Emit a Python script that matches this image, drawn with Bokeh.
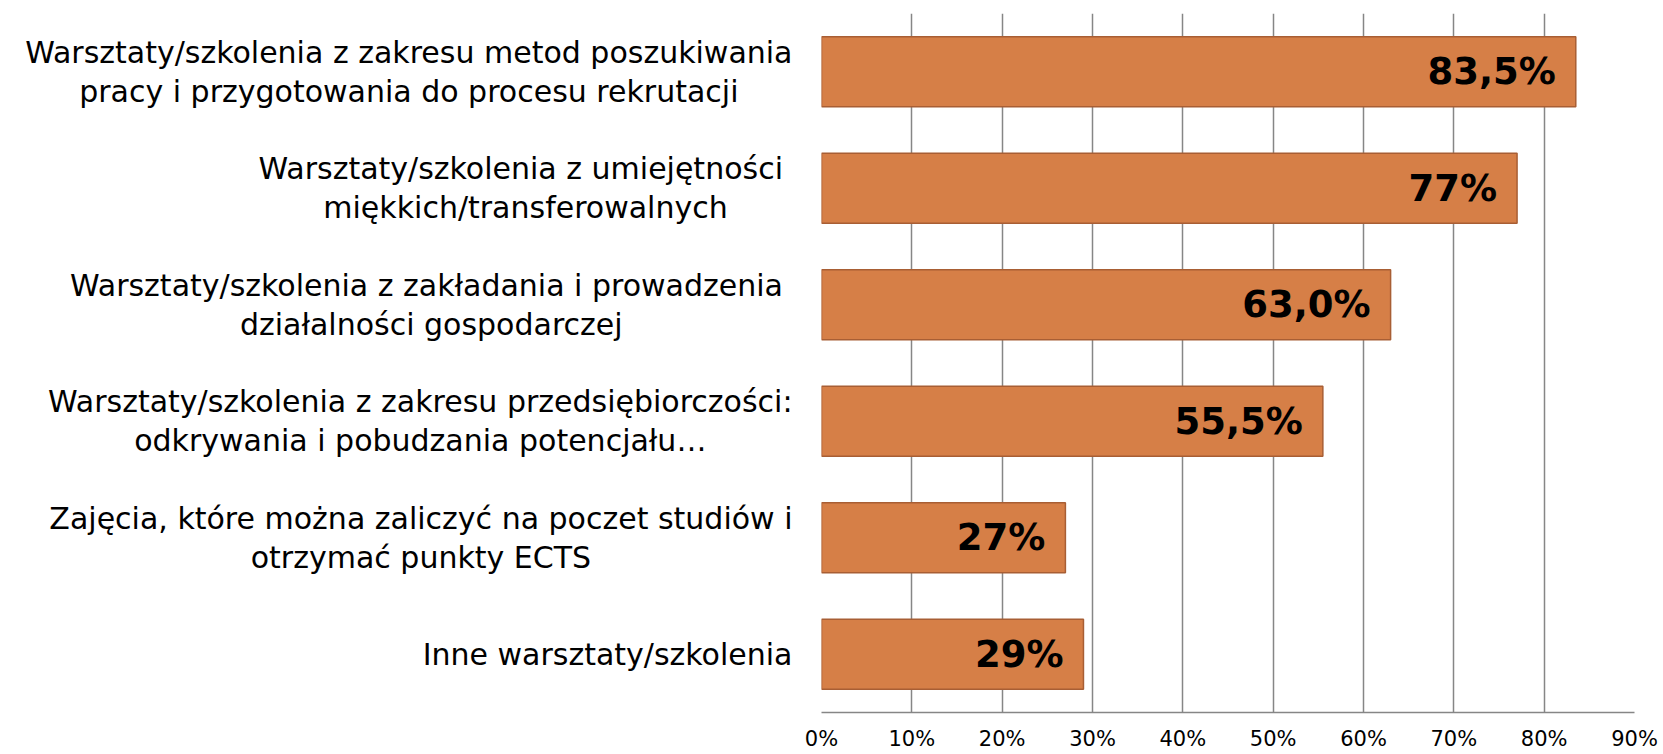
from bokeh.plotting import figure
from bokeh.layouts import row
from bokeh.models import FactorRange, Range1d, FixedTicker, ColumnDataSource
from bokeh.core.properties import value
from bokeh.embed import file_html
from bokeh.resources import INLINE

categories = [
    "Warsztaty/szkolenia z zakresu metod poszukiwania\npracy i przygotowania do procesu rekrutacji",
    "Warsztaty/szkolenia z umiejętności \nmiękkich/transferowalnych",
    "Warsztaty/szkolenia z zakładania i prowadzenia \ndziałalności gospodarczej",
    "Warsztaty/szkolenia z zakresu przedsiębiorczości:\nodkrywania i pobudzania potencjału…",
    "Zajęcia, które można zaliczyć na poczet studiów i\notrzymać punkty ECTS",
    "Inne warsztaty/szkolenia",
]
values = [83.5, 77.0, 63.0, 55.5, 27.0, 29.0]
value_labels = ["83,5%", "77%", "63,0%", "55,5%", "27%", "29%"]
tick_values = [0, 10, 20, 30, 40, 50, 60, 70, 80, 90]
tick_labels = ["0%", "10%", "20%", "30%", "40%", "50%", "60%", "70%", "80%", "90%"]

src = ColumnDataSource(dict(cat=categories, val=values, lab=value_labels,
                            edge=[1.0] * len(categories)))
yr = FactorRange(factors=categories[::-1])

# label panel (category names, block right-aligned, lines centred)
lp = figure(
    y_range=yr, x_range=Range1d(0, 1),
    frame_width=792, frame_height=699,
    min_border_left=0, min_border_right=0, min_border_top=13, min_border_bottom=42,
    x_axis_location=None, y_axis_location=None,
    output_backend="svg", toolbar_location=None,
)
lp.outline_line_color = None
lp.xgrid.visible = False
lp.ygrid.visible = False
lp.text(x="edge", y="cat", text="cat", source=src,
        anchor="center_right", text_align="center", text_baseline="middle",
        text_font=value("DejaVu Sans"), text_font_size="30px",
        text_line_height=1.12, text_color="black")

p = figure(
    y_range=yr,
    x_range=Range1d(0, 90),
    frame_width=813, frame_height=699,
    min_border_left=29, min_border_right=29, min_border_top=13, min_border_bottom=42,
    y_axis_location=None,
    output_backend="svg", toolbar_location=None,
)
p.outline_line_color = None
p.background_fill_color = "white"

p.hbar(y="cat", right="val", left=0, height=0.6, source=src,
       fill_color="#D67F47", line_color="#A85E34", line_width=1.5)

p.text(x="val", y="cat", text="lab", source=src, x_offset=-20,
       text_align="right", text_baseline="middle",
       text_font=value("DejaVu Sans"), text_font_style="bold", text_font_size="37px",
       text_color="black")

p.xaxis.ticker = FixedTicker(ticks=tick_values)
p.xaxis.major_label_overrides = {t: l for t, l in zip(tick_values, tick_labels)}
p.xaxis.major_tick_line_color = None
p.xaxis.minor_tick_line_color = None
p.xaxis.axis_line_color = "#868686"
p.xaxis.axis_line_width = 1.5
p.xaxis.major_label_text_font = "DejaVu Sans"
p.xaxis.major_label_text_font_size = "21px"
p.xaxis.major_label_text_color = "black"
p.xaxis.major_label_standoff = 8

p.xgrid.ticker = FixedTicker(ticks=tick_values)
p.xgrid.grid_line_color = "#868686"
p.xgrid.grid_line_width = 1.5
p.ygrid.grid_line_color = None

layout = row(lp, p, spacing=0)
open("out.html", "w").write(file_html(layout, INLINE))
